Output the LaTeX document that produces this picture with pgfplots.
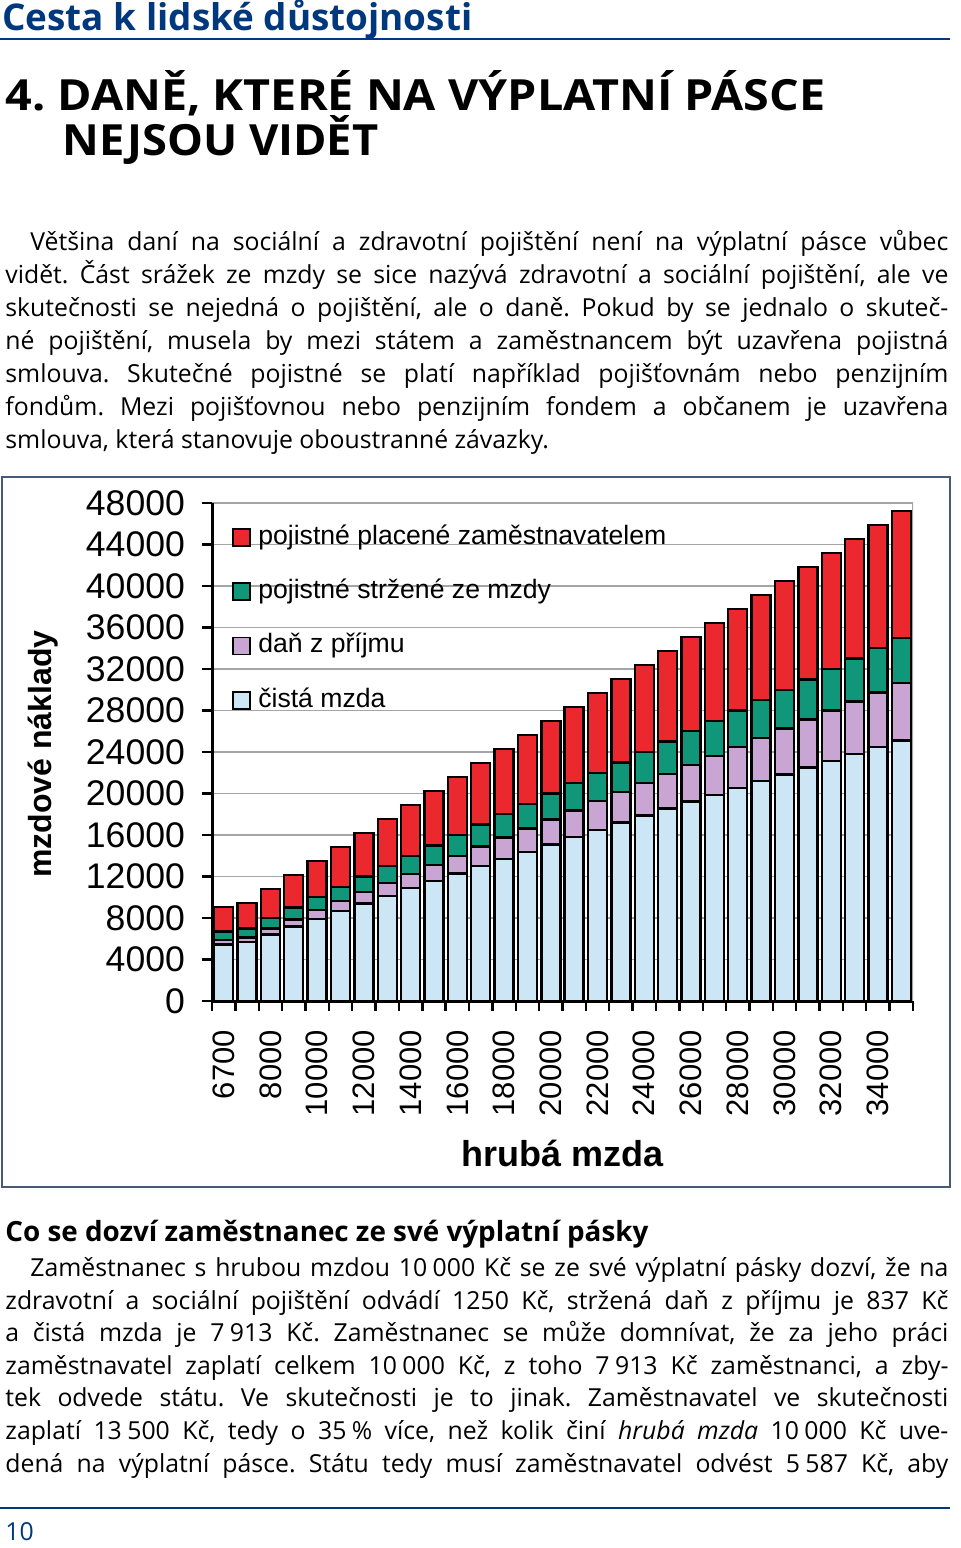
\documentclass[border=0pt]{standalone}
\usepackage{fontspec}
\usepackage{pgfplots}
\usepackage{pgfplotstable}
\pgfplotsset{compat=1.18}
\setmainfont{Open Sans}
\newfontfamily\arial{Liberation Sans}
\definecolor{hdrblue}{RGB}{0,56,125}
\definecolor{framec}{RGB}{70,90,120}
\definecolor{cred}{RGB}{234,40,46}
\definecolor{cteal}{RGB}{16,150,120}
\definecolor{clilac}{RGB}{200,165,210}
\definecolor{clblue}{RGB}{205,230,245}
\definecolor{cgrid}{RGB}{165,165,165}

\pgfplotstableread{
x gross net tax ee er
0 6700 5459 404 838 2345
1 7000 5682 443 875 2450
2 8000 6426 574 1000 2800
3 9000 7169 706 1125 3150
4 10000 7913 837 1250 3500
5 11000 8657 968 1375 3850
6 12000 9400 1100 1500 4200
7 13000 10144 1231 1625 4550
8 14000 10888 1362 1750 4900
9 15000 11589 1536 1875 5250
10 16000 12289 1711 2000 5600
11 17000 12989 1886 2125 5950
12 18000 13689 2061 2250 6300
13 19000 14389 2236 2375 6650
14 20000 15089 2411 2500 7000
15 21000 15789 2586 2625 7350
16 22000 16489 2761 2750 7700
17 23000 17189 2936 2875 8050
18 24000 17889 3111 3000 8400
19 25000 18564 3311 3125 8750
20 26000 19220 3530 3250 9100
21 27000 19876 3749 3375 9450
22 28000 20533 3967 3500 9800
23 29000 21189 4186 3625 10150
24 30000 21845 4405 3750 10500
25 31000 22501 4624 3875 10850
26 32000 23158 4842 4000 11200
27 33000 23814 5061 4125 11550
28 34000 24470 5280 4250 11900
29 35000 25126 5499 4375 12250
}\wages

\newsavebox\lbox
\newlength\lw
\newcommand\JL[4]{\node[anchor=base west,inner sep=0pt] at (#1,#2) {\setlength\lw{#3}\sbox\lbox{#4}\ifdim\wd\lbox>\lw\resizebox{\lw}{\height}{\usebox\lbox}\else\makebox[\lw][s]{#4}\fi};}
\newcommand\NL[3]{\node[anchor=base west,inner sep=0pt] at (#1,#2) {#3};}
\newcommand\ks{\kern0.22em}

\begin{document}
\frenchspacing
\begin{tikzpicture}
\useasboundingbox (0,0) rectangle (480pt,-774pt);
\begin{scope}[x=0.5pt,y=-0.5pt]
  % header
  \node[anchor=base west,inner sep=0pt,text=hdrblue] at (2,30) {\resizebox{235pt}{!}{\bfseries Cesta k lidské důstojnosti}};
  \draw[hdrblue,line width=1pt] (0,39) -- (950,39);
  \node[anchor=base west,inner sep=0pt] at (5,110) {\resizebox{410pt}{20pt}{\bfseries 4. DANĚ, KTERÉ NA VÝPLATNÍ PÁSCE}};
  \node[anchor=base west,inner sep=0pt] at (62,155) {\resizebox{158pt}{20pt}{\bfseries NEJSOU VIDĚT}};
  % paragraph 1
  \fontsize{12.4}{15}\selectfont
  \JL{30}{250}{459pt}{Většina daní na sociální a zdravotní pojištění není na výplatní pásce vůbec}
  \JL{5}{283}{471.5pt}{vidět. Část srážek ze mzdy se sice nazývá zdravotní a sociální pojištění, ale ve}
  \JL{5}{316}{471.5pt}{skutečnosti se nejedná o pojištění, ale o daně. Pokud by se jednalo o skuteč-}
  \JL{5}{349}{471.5pt}{né pojištění, musela by mezi státem a zaměstnancem být uzavřena pojistná}
  \JL{5}{382}{471.5pt}{smlouva. Skutečné pojistné se platí například pojišťovnám nebo penzijním}
  \JL{5}{415}{471.5pt}{fondům. Mezi pojišťovnou nebo penzijním fondem a občanem je uzavřena}
  \NL{5}{448}{smlouva, která stanovuje oboustranné závazky.}
  % chart frame
  \draw[framec,line width=1pt] (2,477) rectangle (950,1187);
  \node[rotate=90,inner sep=0pt,font=\arial\bfseries\fontsize{16}{18}\selectfont] at (43,754) {mzdové náklady};
  \node[inner sep=0pt,font=\arial\bfseries\fontsize{18}{20}\selectfont] at (563,1153) {hrubá mzda};
  % paragraph 2
  \node[anchor=base west,inner sep=0pt] at (5,1241) {\resizebox{321.5pt}{!}{\bfseries Co se dozví zaměstnanec ze své výplatní pásky}};
  \JL{30}{1276}{459pt}{Zaměstnanec s hrubou mzdou 10\ks000 Kč se ze své výplatní pásky dozví, že na}
  \JL{5}{1309}{471.5pt}{zdravotní a sociální pojištění odvádí 1250 Kč, stržená daň z příjmu je 837 Kč}
  \JL{5}{1341}{471.5pt}{a čistá mzda je 7\ks913 Kč. Zaměstnanec se může domnívat, že za jeho práci}
  \JL{5}{1374}{471.5pt}{zaměstnavatel zaplatí celkem 10\ks000 Kč, z toho 7\ks913 Kč zaměstnanci, a zby-}
  \JL{5}{1406}{471.5pt}{tek odvede státu. Ve skutečnosti je to jinak. Zaměstnavatel ve skutečnosti}
  \JL{5}{1439}{471.5pt}{zaplatí 13\ks500 Kč, tedy o 35\ks\% více, než kolik činí \textit{hrubá mzda} 10\ks000 Kč uve-}
  \JL{5}{1472}{471.5pt}{dená na výplatní pásce. Státu tedy musí zaměstnavatel odvést 5\ks587 Kč, aby}
  \draw[hdrblue,line width=1pt] (0,1508) -- (950,1508);
  \node[anchor=base west,inner sep=0pt,text=hdrblue] at (5,1540) {\fontsize{12.4}{14}\selectfont 10};
\end{scope}

\begin{axis}[
  at={(106pt,-500.5pt)}, anchor=south west,
  scale only axis, width=350.5pt, height=249pt,
  xmin=-0.5, xmax=29.5, ymin=0, ymax=48000,
  scaled y ticks=false,
  ybar stacked, bar width=9.5pt,
  axis x line*=bottom, axis y line*=left,
  axis line style={black,line width=1.5pt,-},
  tick align=outside, major tick length=5pt,
  tick style={black,line width=1.2pt},
  ytick={0,4000,8000,12000,16000,20000,24000,28000,32000,36000,40000,44000,48000},
  yticklabels={0,4000,8000,12000,16000,20000,24000,28000,32000,36000,40000,44000,48000},
  yticklabel style={font=\arial\fontsize{17.8}{20}\selectfont,xshift=-5pt},
  ymajorgrids, grid style={cgrid,line width=0.7pt},
  xtick={-0.5,0.5,...,29.5}, xticklabels={},
  extra x ticks={0,2,4,6,8,10,12,14,16,18,20,22,24,26,28},
  extra x tick labels={6700,8000,10000,12000,14000,16000,18000,20000,22000,24000,26000,28000,30000,32000,34000},
  extra x tick style={major tick length=0pt,
    tick label style={rotate=90,anchor=east,xshift=-11pt,font=\arial\fontsize{15.5}{18}\selectfont}},
  every axis plot/.append style={draw=black,line width=1.2pt},
  reverse legend,
  legend cell align=left,
  legend style={at={(0.02,0.965)},anchor=north west,draw=none,fill=none,
    font=\arial\fontsize{13.3}{15}\selectfont,
    nodes={inner sep=0pt,text height=9.6pt,text depth=2.8pt},
    row sep=14.8pt},
  legend image code/.code={\draw[#1,draw=black,line width=0.9pt] (0pt,-4.25pt) rectangle (8.5pt,4.25pt); \path[draw=none,fill=none] (0pt,0pt) -- (12.5pt,0pt);},
]
\addplot[fill=clblue] table[x=x,y=net] {\wages};
\addplot[fill=clilac] table[x=x,y=tax] {\wages};
\addplot[fill=cteal] table[x=x,y=ee] {\wages};
\addplot[fill=cred] table[x=x,y=er] {\wages};
\legend{čistá mzda,daň z příjmu,pojistné stržené ze mzdy,pojistné placené zaměstnavatelem}
\draw[cgrid,line width=0.7pt] (rel axis cs:1,0) -- (rel axis cs:1,1);
\end{axis}
\end{tikzpicture}
\end{document}
